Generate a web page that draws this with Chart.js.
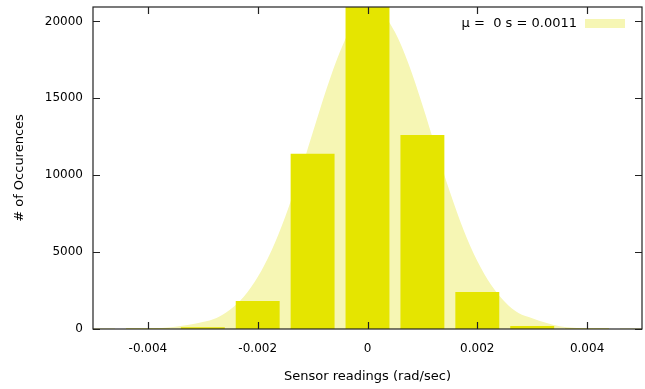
<!DOCTYPE html>
<html lang="en">
  <head>
    <meta charset="UTF-8" />
    <title>Sensor readings histogram</title>
    <script src="https://cdn.jsdelivr.net/npm/chart.js"></script>
    <style>
      html, body { margin: 0; padding: 0; background: #fff; }
      #wrap { width: 645px; height: 389px; }
    </style>
  </head>
  <body>
    <div id="wrap"><canvas id="histChart"></canvas></div>

    <script>
      // histogram bins (rad/sec) and counts
      const binCenters = [-0.005, -0.004, -0.003, -0.002, -0.001, 0, 0.001, 0.002, 0.003, 0.004, 0.005];
      const binCounts = [20, 40, 110, 1820, 11390, 20940, 12620, 2410, 190, 40, 20];

      // fitted gaussian
      const curveX = [
        -0.005, -0.00475, -0.0045, -0.00425, -0.004, -0.00375, -0.0035, -0.00325, -0.003, -0.00275,
        -0.0025, -0.00225, -0.002, -0.00175, -0.0015, -0.00125, -0.001, -0.00075, -0.0005, -0.00025,
        0,
        0.00025, 0.0005, 0.00075, 0.001, 0.00125, 0.0015, 0.00175, 0.002, 0.00225, 0.0025,
        0.00275, 0.003, 0.00325, 0.0035, 0.00375, 0.004, 0.00425, 0.0045, 0.00475, 0.005
      ];
      const curveY = [
        1, 3, 6, 14, 30, 70, 140, 270, 450, 720,
        1270, 2120, 3380, 5090, 7290, 9890, 12740, 15570, 18050, 19870,
        20740,
        20550, 19310, 17220, 14570, 11700, 8920, 6440, 4420, 2880, 1780,
        1040, 700, 400, 180, 80, 35, 15, 7, 3, 1
      ];

      const xTicks = [-0.004, -0.002, 0, 0.002, 0.004];
      const yTicks = [0, 5000, 10000, 15000, 20000];
      const fitLabel = "μ =  0 s = 0.0011";

      const barColor = "#e5e500";
      const fitColor = "#f6f6b4";

      Chart.defaults.font.family = "'DejaVu Sans', sans-serif";
      Chart.defaults.color = "#000";

      // gnuplot style frame with inward tics on all four sides, plus the key
      const frame = {
        id: "frame",
        afterDatasetsDraw(chart) {
          const { ctx, chartArea: a, scales } = chart;
          const len = 7;
          ctx.save();
          ctx.strokeStyle = "#222";
          ctx.lineWidth = 1.2;
          ctx.beginPath();
          xTicks.forEach((v) => {
            const px = Math.round(scales.x.getPixelForValue(v)) + 0.5;
            ctx.moveTo(px, a.bottom);
            ctx.lineTo(px, a.bottom - len);
            ctx.moveTo(px, a.top);
            ctx.lineTo(px, a.top + len);
          });
          yTicks.forEach((v) => {
            const py = Math.round(scales.y.getPixelForValue(v)) + 0.5;
            ctx.moveTo(a.left, py);
            ctx.lineTo(a.left + len, py);
            ctx.moveTo(a.right, py);
            ctx.lineTo(a.right - len, py);
          });
          ctx.stroke();
          ctx.strokeRect(a.left, a.top, a.right - a.left, a.bottom - a.top);

          // key: text then sample box, top right
          const boxX = a.right - 57;
          const boxY = a.top + 12;
          ctx.fillStyle = fitColor;
          ctx.fillRect(boxX, boxY, 40, 9);
          ctx.fillStyle = "#000";
          ctx.font = "13px 'DejaVu Sans', sans-serif";
          ctx.textAlign = "right";
          ctx.textBaseline = "middle";
          ctx.fillText(fitLabel, boxX - 8, boxY + 5);
          ctx.restore();
        },
      };

      new Chart(document.getElementById("histChart"), {
        type: "bar",
        data: {
          datasets: [
            {
              type: "line",
              label: fitLabel,
              data: curveX.map((x, i) => ({ x: x, y: curveY[i] })),
              backgroundColor: fitColor,
              borderColor: fitColor,
              borderWidth: 0,
              pointRadius: 0,
              fill: "origin",
              cubicInterpolationMode: "monotone",
              order: 2,
            },
            {
              type: "bar",
              label: "counts",
              data: binCenters.map((x, i) => ({ x: x, y: binCounts[i] })),
              backgroundColor: barColor,
              borderWidth: 0,
              categoryPercentage: 0.8,
              barPercentage: 1.0,
              order: 1,
            },
          ],
        },
        options: {
          responsive: true,
          maintainAspectRatio: false,
          animation: false,
          layout: { padding: { top: 7, right: 3, left: 0, bottom: 0 } },
          plugins: {
            legend: { display: false },
            tooltip: { enabled: false },
          },
          scales: {
            x: {
              type: "linear",
              min: -0.005,
              max: 0.005,
              offset: false,
              grid: { display: false, drawTicks: false },
              border: { display: false },
              afterBuildTicks: (s) => {
                s.ticks = xTicks.map((v) => ({ value: v }));
              },
              afterFit: (s) => {
                s.height = 60;
                s.paddingLeft = 0;
                s.paddingRight = 0;
              },
              ticks: {
                padding: 13,
                maxRotation: 0,
                autoSkip: false,
                font: { size: 12 },
                callback: (v) => (v === 0 ? "0" : v.toFixed(3)),
              },
              title: {
                display: true,
                text: "Sensor readings (rad/sec)",
                font: { size: 13 },
                padding: { top: 0, bottom: 5 },
              },
            },
            y: {
              min: 0,
              max: 20940,
              grid: { display: false, drawTicks: false },
              border: { display: false },
              afterBuildTicks: (s) => {
                s.ticks = yTicks.map((v) => ({ value: v }));
              },
              afterFit: (s) => {
                s.width = 93;
                s.paddingTop = 0;
                s.paddingBottom = 0;
              },
              ticks: { padding: 10, font: { size: 12 }, callback: (v) => String(v) },
              title: {
                display: true,
                text: "# of Occurences",
                font: { size: 13 },
                padding: { top: 12, bottom: 0 },
              },
            },
          },
        },
        plugins: [frame],
      });
    </script>
  </body>
</html>
